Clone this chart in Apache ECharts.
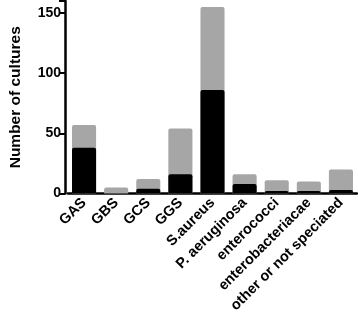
<!DOCTYPE html>
<html><head><meta charset="utf-8">
<script src="https://cdn.jsdelivr.net/npm/echarts@6/dist/echarts.min.js"></script>
<style>html,body{margin:0;padding:0;background:#fff}#c{width:358px;height:321px}</style>
</head><body><div id="c"></div>
<script>
const categories = ['GAS','GBS','GCS','GGS','S.aureus','P. aeruginosa','enterococci','enterobacteriacae','other or not speciated'];
const totalCultures = [57, 5, 12, 54, 155, 16, 11, 10, 20];
const blackCultures = [38, 0, 4, 16, 86, 8, 2, 2, 3];
const yTicks = [0, 50, 100, 150];

const chart = echarts.init(document.getElementById('c'));
const font = 'Liberation Sans, Arial, Helvetica, sans-serif';
chart.setOption({
  animation: false,
  grid: {left: 66, right: 1, top: 1, height: 192.5},
  xAxis: {
    type: 'category', data: categories,
    axisLine: {lineStyle: {color: '#000', width: 2.5}},
    axisTick: {alignWithLabel: true, length: 6, lineStyle: {color: '#000', width: 2}},
    axisLabel: {rotate: 45, color: '#000', fontWeight: 'bold', fontSize: 14.5, fontFamily: font, margin: 7, interval: 0}
  },
  yAxis: {
    type: 'value', min: 0, max: 160, interval: 50, offset: 3,
    name: 'Number of cultures', nameLocation: 'middle', nameGap: 41,
    nameTextStyle: {color: '#000', fontWeight: 'bold', fontSize: 15.5, fontFamily: font},
    splitLine: {show: false},
    axisLine: {show: true, lineStyle: {color: '#000', width: 2.5}},
    axisTick: {show: true, length: 6, lineStyle: {color: '#000', width: 2}},
    axisLabel: {color: '#000', fontWeight: 'bold', fontSize: 14, fontFamily: font, margin: 4,
      formatter: v => yTicks.includes(v) ? String(v) : ''}
  },
  series: [
    {type: 'bar', data: totalCultures, barWidth: '75%', barGap: '-100%',
     itemStyle: {color: '#a6a6a6', borderRadius: [2,2,0,0]}},
    {type: 'bar', data: blackCultures, barWidth: '75%',
     itemStyle: {color: '#000', borderRadius: [2,2,0,0]}}
  ]
});
</script></body></html>
